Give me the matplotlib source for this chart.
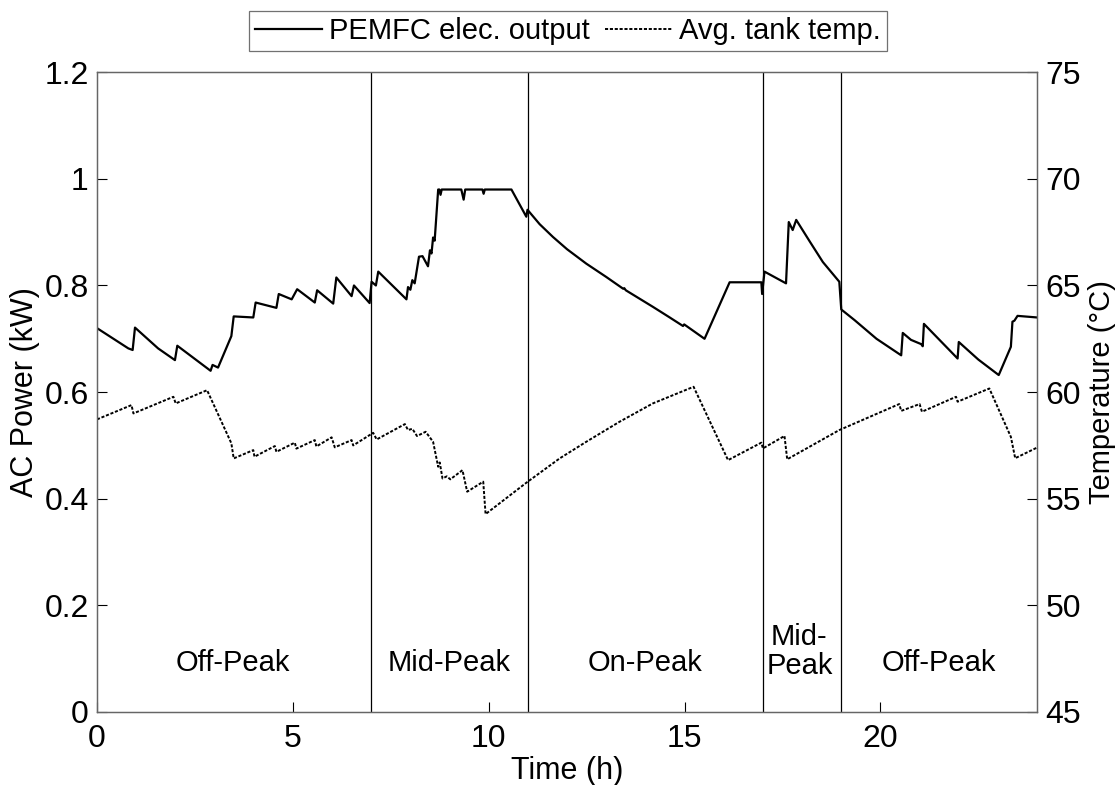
import matplotlib
matplotlib.use('Agg')
import matplotlib.pyplot as plt

plt.rcParams['font.family'] = ['Liberation Sans', 'DejaVu Sans']

# PEMFC electrical output (kW) vs time (h)
t_pow = [0, 0.80, 0.91, 0.97, 1.56, 1.99, 2.05, 2.90, 2.95, 3.09, 3.43, 3.49,
         3.99, 4.05, 4.58, 4.64, 4.97, 5.11, 5.56, 5.62, 6.03, 6.11, 6.50, 6.56,
         6.96, 7.01, 7.12, 7.18, 7.90, 7.94, 8.00, 8.05, 8.11, 8.22, 8.31, 8.45,
         8.50, 8.54, 8.58, 8.62, 8.71, 8.74, 8.77, 8.80, 9.30, 9.36, 9.40, 9.84,
         9.87, 9.90, 10.58, 10.96, 10.99, 11.30, 11.64, 12.00, 12.49, 13.00,
         13.43, 13.46, 13.50, 14.19, 14.60, 14.96, 14.99, 15.51, 16.15, 16.96,
         16.98, 17.04, 17.59, 17.66, 17.76, 17.85, 18.20, 18.53, 18.95, 19.00,
         19.34, 19.90, 20.53, 20.57, 20.78, 21.04, 21.08, 21.11, 21.97, 22.00,
         22.50, 23.02, 23.33, 23.37, 23.42, 23.50, 24.00]
power = [0.720, 0.682, 0.679, 0.721, 0.682, 0.660, 0.687, 0.640, 0.651, 0.646,
         0.705, 0.742, 0.740, 0.768, 0.758, 0.784, 0.774, 0.793, 0.768, 0.791,
         0.766, 0.815, 0.780, 0.800, 0.767, 0.807, 0.800, 0.826, 0.774, 0.797,
         0.792, 0.810, 0.804, 0.854, 0.855, 0.836, 0.866, 0.860, 0.890, 0.884,
         0.980, 0.980, 0.970, 0.980, 0.980, 0.961, 0.980, 0.980, 0.972, 0.980,
         0.980, 0.929, 0.942, 0.915, 0.891, 0.868, 0.841, 0.816, 0.794, 0.795,
         0.791, 0.760, 0.741, 0.724, 0.727, 0.700, 0.806, 0.806, 0.784, 0.826,
         0.804, 0.919, 0.904, 0.923, 0.882, 0.844, 0.807, 0.755, 0.735, 0.700,
         0.669, 0.711, 0.698, 0.690, 0.686, 0.728, 0.663, 0.694, 0.661, 0.632,
         0.685, 0.732, 0.734, 0.743, 0.740]

# Average tank temperature (degC) vs time (h)
t_temp = [0, 0.88, 0.93, 1.95, 2.01, 2.81, 3.43, 3.49, 3.99, 4.02, 4.54, 4.58,
          5.05, 5.09, 5.56, 5.60, 5.99, 6.07, 6.50, 6.54, 7.05, 7.14, 7.86, 7.94,
          8.05, 8.17, 8.39, 8.58, 8.71, 8.75, 8.82, 8.93, 9.02, 9.33, 9.45, 9.86,
          9.92, 10.96, 11.81, 12.49, 13.34, 14.19, 15.23, 16.11, 16.96, 17.00,
          17.51, 17.55, 17.62, 18.95, 20.48, 20.53, 21.00, 21.06, 21.93, 21.97,
          22.78, 23.33, 23.44, 24.00]
temp = [58.72, 59.39, 59.00, 59.78, 59.47, 60.09, 57.60, 56.89, 57.28, 56.97,
        57.47, 57.20, 57.63, 57.35, 57.75, 57.45, 57.88, 57.41, 57.75, 57.50,
        58.09, 57.78, 58.50, 58.22, 58.28, 57.94, 58.14, 57.67, 56.50, 56.70,
        55.95, 56.05, 55.91, 56.34, 55.33, 55.80, 54.28, 55.75, 56.89, 57.67,
        58.61, 59.47, 60.25, 56.81, 57.63, 57.36, 57.90, 57.95, 56.85, 58.22,
        59.44, 59.12, 59.44, 59.08, 59.78, 59.55, 60.17, 57.90, 56.90, 57.40]

# tariff period boundaries and labels
boundaries = [7, 11, 17, 19]
period_labels = ['Off-Peak', 'Mid-Peak', 'On-Peak', 'Mid-\nPeak', 'Off-Peak']
label_x = [3.47, 8.98, 13.98, 17.93, 21.5]
label_y = [0.092, 0.092, 0.092, 0.113, 0.092]

fig = plt.figure(figsize=(11.2, 7.85), dpi=100)
ax = fig.add_axes([0.0866, 0.093, 0.8394, 0.815])
ax2 = ax.twinx()

l1, = ax.plot(t_pow, power, color='k', lw=1.6, label='PEMFC elec. output')
l2, = ax2.plot(t_temp, temp, color='k', lw=1.4, linestyle=(0, (1.6, 0.9)),
               label='Avg. tank temp.')

for b in boundaries:
    ax.axvline(b, color='k', lw=0.9)

for txt, x, y in zip(period_labels, label_x, label_y):
    ax.text(x, y, txt, ha='center', va='center', fontsize=21, linespacing=1.05)

ax.set_xlim(0, 24)
ax.set_ylim(0, 1.2)
ax2.set_ylim(45, 75)
ax.set_xticks([0, 5, 10, 15, 20])
ax.set_yticks([0, 0.2, 0.4, 0.6, 0.8, 1.0, 1.2])
ax.set_yticklabels(['0', '0.2', '0.4', '0.6', '0.8', '1', '1.2'])
ax2.set_yticks([45, 50, 55, 60, 65, 70, 75])

for a in (ax, ax2):
    a.tick_params(direction='in', length=7, width=0.8, labelsize=23, colors='k', pad=6)
    for s in a.spines.values():
        s.set_color('0.4')
        s.set_linewidth(0.9)
ax.tick_params(axis='x', pad=9)

ax.set_xlabel('Time (h)', fontsize=22, labelpad=1)
ax.set_ylabel('AC Power (kW)', fontsize=22, labelpad=3)
ax2.set_ylabel('Temperature (\u00b0C)', fontsize=21, labelpad=5)

leg = fig.legend(handles=[l1, l2], loc='upper center', bbox_to_anchor=(0.507, 0.993),
                 ncol=2, fontsize=21, frameon=True, fancybox=False,
                 handlelength=2.3, handletextpad=0.25, columnspacing=0.5,
                 borderpad=0.2, borderaxespad=0.2)
leg.get_frame().set_edgecolor('0.3')
leg.get_frame().set_linewidth(0.9)

fig.savefig('out.png', dpi=100)
